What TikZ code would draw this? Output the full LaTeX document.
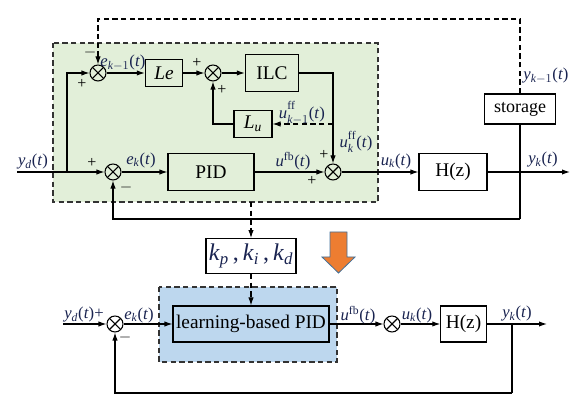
\documentclass[tikz,border=0pt]{standalone}
\usepackage{amsmath}
\usepackage{fontspec}
\setmainfont{Liberation Serif}
\usetikzlibrary{arrows.meta}
\definecolor{GreenBg}{RGB}{226,239,217}
\definecolor{BlueBg}{RGB}{189,215,238}
\definecolor{LabBlue}{RGB}{25,35,80}
\definecolor{ArrOrange}{RGB}{237,125,49}
\definecolor{ArrEdge}{RGB}{65,113,156}
\tikzset{
  blk/.style={draw=black,line width=0.8pt,inner sep=1pt,font=\fontsize{14.5}{16}\selectfont},
  sumj/.style={circle,draw=black,line width=0.8pt,inner sep=0pt,minimum size=12pt,
    path picture={\draw[line width=0.8pt] (path picture bounding box.north west)--(path picture bounding box.south east)
      (path picture bounding box.north east)--(path picture bounding box.south west);}},
  arr/.style={line width=0.8pt,-{Latex[length=6pt,width=4pt]}},
  wire/.style={line width=0.8pt},
  dsh/.style={dash pattern=on 4pt off 2.5pt},
  lab/.style={text=LabBlue,inner sep=0pt,font=\fontsize{12.5}{14}\selectfont},
  pm/.style={inner sep=0pt,font=\fontsize{12}{14}\selectfont},
}

\begin{document}
\begin{tikzpicture}[x=0.75pt,y=-0.75pt]
\useasboundingbox (0,0) rectangle (576,409);
% shaded areas
\draw[dsh,line width=0.8pt,draw=black!80,fill=GreenBg] (53,43) rectangle (378,202);
\draw[dsh,line width=0.8pt,draw=black!80,fill=BlueBg] (159,287) rectangle (337,362);
\coordinate (gb) at (251,202);

% upper scheme
\node[sumj] (s1) at (98,73) {};
\node[blk,minimum width=28pt,minimum height=20pt] (le) at (164,73) {\textit{Le}};
\node[sumj] (s2) at (213,73) {};
\node[blk,minimum width=40pt,minimum height=28pt] (ilc) at (272,73) {ILC};
\node[blk,minimum width=28.5pt,minimum height=20pt] (lu) at (253,124) {\textit{L}$_{\textit{u}}$};
\node[sumj] (s4) at (113,172) {};
\node[blk,minimum width=64.5pt,minimum height=28pt] (pid) at (211,172) {PID};
\node[sumj] (s3) at (333,172) {};
\node[blk,fill=white,minimum width=51pt,minimum height=28pt] (hz) at (453,172) {H(z)};
\node[blk,fill=white,minimum width=53pt,minimum height=22.5pt,font=\fontsize{13.5}{15}\selectfont] (sto) at (520,109) {storage};
\coordinate (ydin) at (17,172);
\coordinate (sp1) at (67,172);
\coordinate (yout) at (570,172);
\coordinate (fb1) at (520,219);
\coordinate (top) at (520,19);

\draw[arr] (ydin) -- (s4.west);
\draw[arr] (sp1) |- (s1.west);
\draw[arr] (s1) -- (le);
\draw[arr] (le) -- (s2);
\draw[arr] (s2) -- (ilc);
\draw[arr] (ilc.east) -| (s3.north);
\draw[arr,dsh] (s3.north |- lu.east) -- (lu.east);
\draw[arr] (lu.west) -| (s2.south);
\draw[arr] (s4) -- (pid);
\draw[arr] (pid) -- (s3);
\draw[arr] (s3) -- (hz);
\draw[arr] (hz) -- (yout);
\draw[wire] (sto.south) -- (fb1);
\draw[arr] (fb1) -| (s4.south);
\draw[arr,dsh] (sto.north) -- (top) -| (s1.north);

\node[pm] at (90,53) {$-$};
\node[pm] at (82,84) {+};
\node[lab] at (123,63) {\textit{e}$_{\textit{k}-1}$(\textit{t})};
\node[pm] at (197,63) {+};
\node[pm] at (222,90) {+};
\node[lab] at (302,113) {\textit{u}$^{\raisebox{2pt}{$\scriptstyle\mathrm{ff}$}}_{\textit{k}-1}$(\textit{t})};
\node[lab] at (356,142) {\textit{u}$^{\raisebox{2pt}{$\scriptstyle\mathrm{ff}$}}_{\textit{k}}$(\textit{t})};
\node[pm] at (324,155) {+};
\node[pm] at (312,181) {+};
\node[lab] at (293,161) {\textit{u}$^{\mathrm{fb}}$(\textit{t})};
\node[lab] at (396,161) {\textit{u}$_{\textit{k}}$(\textit{t})};
\node[lab] at (543,160) {\textit{y}$_{\textit{k}}$(\textit{t})};
\node[lab] at (546,76) {\textit{y}$_{\textit{k}-1}$(\textit{t})};
\node[lab] at (33,162) {\textit{y}$_{\textit{d}}$(\textit{t})};
\node[pm] at (92,163) {+};
\node[lab] at (141,160) {\textit{e}$_{\textit{k}}$(\textit{t})};
\node[pm] at (126,188) {$-$};

% gains
\node[blk,fill=white,minimum width=67.5pt,minimum height=26pt,text=LabBlue,font=\fontsize{18}{20}\selectfont] (kbox) at (251,256)
  {\textit{k}$_{\textit{p}}$\,,\,\textit{k}$_{\textit{i}}$\,,\,\textit{k}$_{\textit{d}}$};
\draw[arr,dsh] (gb) -- (kbox.north);
\draw[draw=ArrEdge,fill=ArrOrange,line width=0.6pt]
  (330,232) -- (347,232) -- (347,257) -- (355,257) -- (338.5,273) -- (322,257) -- (330,257) -- cycle;

% lower scheme
\node[sumj] (s5) at (115,324) {};
\node[blk,fill=BlueBg,minimum width=117pt,minimum height=27pt] (lpid) at (251,324) {learning-based PID};
\node[sumj] (s6) at (392,324) {};
\node[blk,fill=white,minimum width=34pt,minimum height=27pt] (hz2) at (463.5,324) {H(z)};
\coordinate (ydin2) at (63,324);
\coordinate (yout2) at (547,324);
\coordinate (sp2) at (512,324);
\coordinate (fb2) at (512,393);

\draw[arr,dsh] (kbox.south) -- (lpid.north);
\draw[arr] (ydin2) -- (s5.west);
\draw[arr] (s5) -- (lpid);
\draw[arr] (lpid) -- (s6);
\draw[arr] (s6) -- (hz2);
\draw[arr] (hz2) -- (yout2);
\draw[wire] (sp2) -- (fb2);
\draw[arr] (fb2) -| (s5.south);

\node[lab] at (84,315) {\textit{y}$_{\textit{d}}$(\textit{t})+};
\node[lab] at (139,315) {\textit{e}$_{\textit{k}}$(\textit{t})};
\node[pm] at (125,338) {$-$};
\node[lab] at (358,315) {\textit{u}$^{\mathrm{fb}}$(\textit{t})};
\node[lab] at (417,315) {\textit{u}$_{\textit{k}}$(\textit{t})};
\node[lab] at (517,314) {\textit{y}$_{\textit{k}}$(\textit{t})};
\end{tikzpicture}
\end{document}
